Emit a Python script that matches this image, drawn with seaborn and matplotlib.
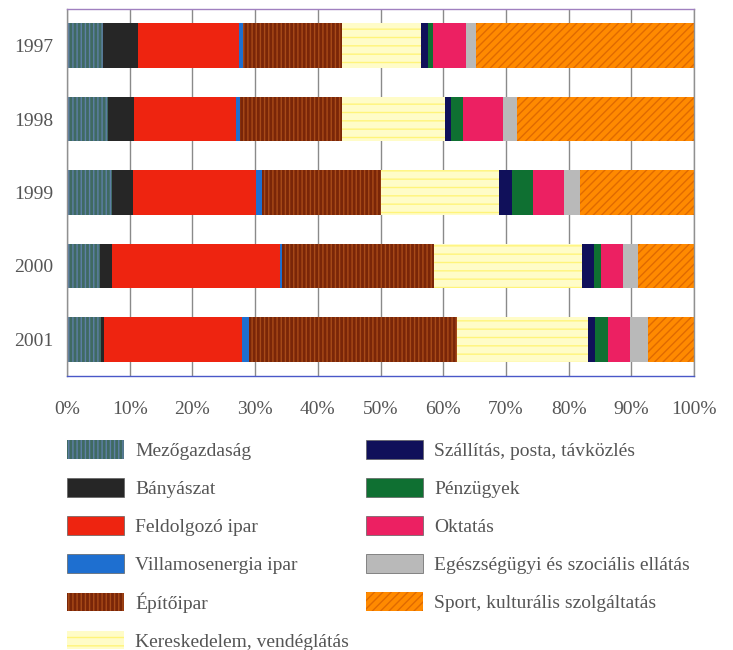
import matplotlib
matplotlib.use("Agg")
import matplotlib.pyplot as plt
import matplotlib.patches as mpatches
from matplotlib.ticker import FixedLocator
import numpy as np
import pandas as pd
import seaborn as sns

years = ["1997", "1998", "1999", "2000", "2001"]

sectors = [
    "Mezőgazdaság",
    "Bányászat",
    "Feldolgozó ipar",
    "Villamosenergia ipar",
    "Építőipar",
    "Kereskedelem, vendéglátás",
    "Szállítás, posta, távközlés",
    "Pénzügyek",
    "Oktatás",
    "Egészségügyi és szociális ellátás",
    "Sport, kulturális szolgáltatás",
]

# Share of each sector per year (%), in the order of `sectors`
mezogazdasag = [5.8, 6.5, 7.1, 5.2, 5.5]
banyaszat = [5.6, 4.2, 3.4, 1.9, 0.4]
feldolgozo = [16.1, 16.2, 19.6, 26.9, 22.0]
villamos = [0.5, 0.7, 1.0, 0.3, 1.2]
epitoipar = [15.8, 16.2, 18.9, 24.2, 33.1]
kereskedelem = [12.7, 16.5, 18.9, 23.7, 20.9]
szallitas = [1.0, 0.9, 2.0, 1.9, 1.1]
penzugyek = [0.9, 1.9, 3.5, 1.0, 2.1]
oktatas = [5.2, 6.4, 4.8, 3.6, 3.5]
egeszseg = [1.7, 2.2, 2.6, 2.3, 2.8]
sport = [34.7, 28.3, 18.2, 9.0, 7.4]

values = [mezogazdasag, banyaszat, feldolgozo, villamos, epitoipar,
          kereskedelem, szallitas, penzugyek, oktatas, egeszseg, sport]

x_ticks = [0, 10, 20, 30, 40, 50, 60, 70, 80, 90, 100]
x_tick_labels = ["0%", "10%", "20%", "30%", "40%", "50%", "60%", "70%", "80%", "90%", "100%"]

# (face colour, hatch, hatch colour)
styles = [
    ("#3f6a62", "||||", "#5d7fa6"),
    ("#262626", None, None),
    ("#ee2410", None, None),
    ("#1e6fd0", None, None),
    ("#7a2608", "||||", "#a84a18"),
    ("#fffcc8", "--", "#fff47a"),
    ("#10105a", None, None),
    ("#0f7032", None, None),
    ("#ec2062", None, None),
    ("#b9b9b9", None, None),
    ("#ff8a00", "////", "#e06a00"),
]

sns.set_theme(style="white")
plt.rcParams["font.family"] = ["Liberation Serif", "DejaVu Serif"]
plt.rcParams["hatch.linewidth"] = 1.0

fig = plt.figure(figsize=(7.33, 6.5), dpi=100)
ax = fig.add_axes([67 / 733, 1 - 376 / 650, 627 / 733, 367 / 650])

vals = np.array(values, dtype=float)
cum = np.cumsum(vals, axis=0)
cum = cum / cum[-1] * 100.0

# Stacked bars: draw cumulative totals from the outermost segment inwards
for i in range(len(sectors) - 1, -1, -1):
    df = pd.DataFrame({"year": years, "cum": cum[i]})
    n_before = len(ax.patches)
    fc, hatch, hc = styles[i]
    sns.barplot(data=df, x="cum", y="year", orient="h", color=fc,
                saturation=1, width=0.61, ax=ax, linewidth=0)
    for p in ax.patches[n_before:]:
        p.set_facecolor(fc)
        if hatch:
            p.set_hatch(hatch)
            p.set_edgecolor(hc)
            p.set_linewidth(0)

ax.set_xlim(0, 100)
ax.set_ylim(4.5, -0.5)
ax.set_xlabel("")
ax.set_ylabel("")

ax.xaxis.set_major_locator(FixedLocator(x_ticks))
ax.set_xticklabels(x_tick_labels)
ax.grid(axis="x", color="#8a8a8a", linewidth=1.0)
ax.set_axisbelow(True)
ax.tick_params(axis="x", length=6, color="#8a8a8a", pad=12, labelsize=14,
               labelcolor="#555555")
ax.tick_params(axis="y", which="major", length=0, pad=10, labelsize=14,
               labelcolor="#555555")
ax.yaxis.set_minor_locator(FixedLocator([0.5, 1.5, 2.5, 3.5]))
ax.tick_params(axis="y", which="minor", length=5, color="#6a5ad0", width=1)

ax.spines["top"].set_color("#a080c0")
ax.spines["bottom"].set_color("#4a58c8")
ax.spines["left"].set_color("#909090")
ax.spines["right"].set_color("#909090")
for s in ax.spines.values():
    s.set_linewidth(1.0)


def handle(i):
    fc, hatch, hc = styles[i]
    if hatch:
        return mpatches.Patch(facecolor=fc, hatch=hatch, edgecolor=hc, linewidth=0)
    return mpatches.Patch(facecolor=fc, edgecolor="#606060", linewidth=0.5)


legend_kw = dict(frameon=False, fontsize=14, handlelength=2.95, handleheight=1.1,
                 labelspacing=0.93, handletextpad=0.55, borderaxespad=0, borderpad=0)
left_idx = range(0, 6)
right_idx = range(6, 11)
leg1 = fig.legend([handle(i) for i in left_idx], [sectors[i] for i in left_idx],
                  loc="upper left", bbox_to_anchor=(67 / 733, 1 - 440 / 650), **legend_kw)
leg2 = fig.legend([handle(i) for i in right_idx], [sectors[i] for i in right_idx],
                  loc="upper left", bbox_to_anchor=(366 / 733, 1 - 440 / 650), **legend_kw)
for leg in (leg1, leg2):
    for t in leg.get_texts():
        t.set_color("#555555")

fig.savefig("out.png", dpi=100, facecolor="white")
